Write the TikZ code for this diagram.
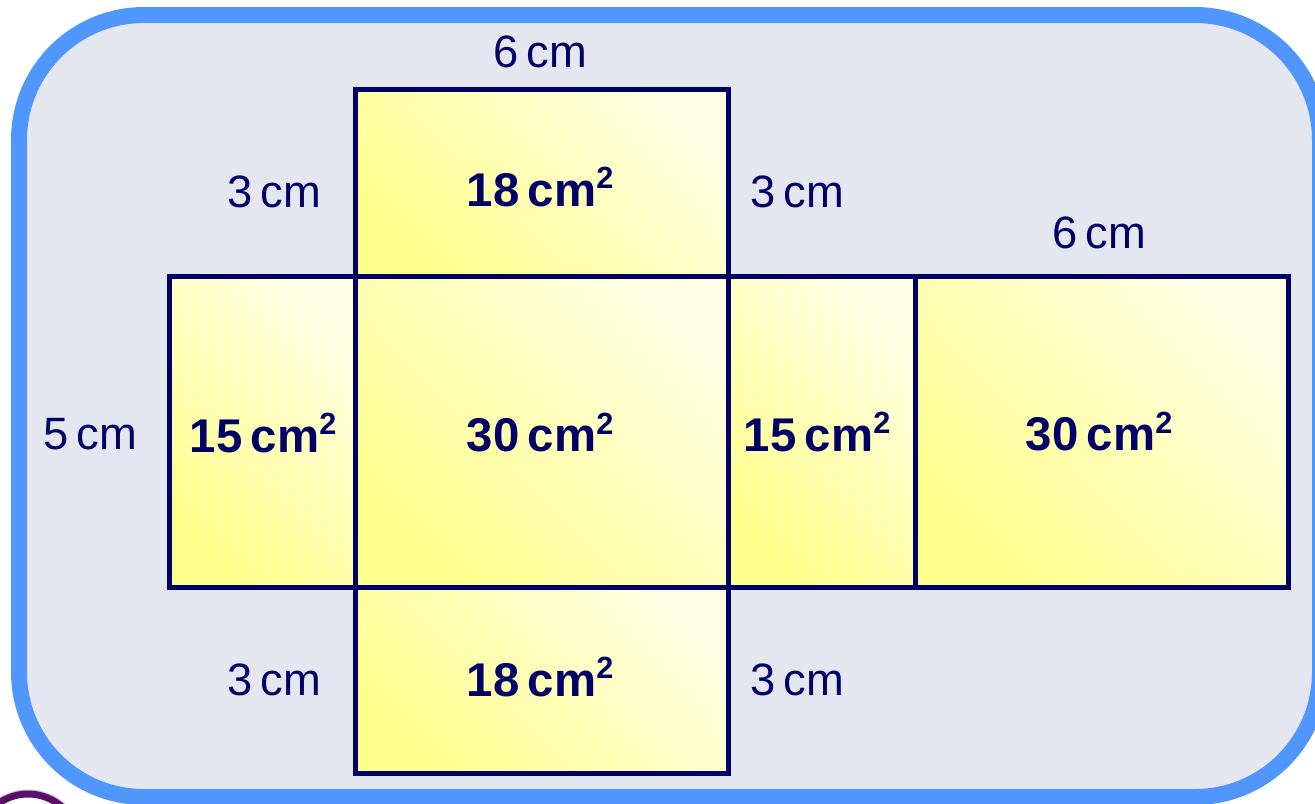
\documentclass[tikz,border=0pt]{standalone}
\usepackage{fontspec}
\setmainfont{Liberation Sans}
\usetikzlibrary{fit}
\definecolor{navy}{HTML}{000066}
\definecolor{frameblue}{HTML}{4F97FF}
\definecolor{panel}{HTML}{E4E7F0}
\definecolor{ylwA}{HTML}{FFFF8C}
\definecolor{ylwB}{HTML}{FFFFE4}
\definecolor{logopurple}{HTML}{5B0F6B}
\newcommand{\sqtwo}{\raisebox{0.36em}{\fontsize{23pt}{23pt}\selectfont 2}}
\newcommand{\thinsp}{\hspace{0.18em}}
\tikzset{
  facebox/.style={draw=navy, line width=3.75pt, inner sep=0pt,
    top color=ylwB, bottom color=ylwA, shading angle=-45},
  dimlabel/.style={text=navy, font=\fontsize{34pt}{37pt}\selectfont, inner sep=0pt},
  arealabel/.style={text=navy, font=\fontsize{35.5pt}{39pt}\selectfont\bfseries, inner sep=0pt},
}
\begin{document}
\begin{tikzpicture}[x=0.75pt, y=-0.75pt]
\useasboundingbox (0,0) rectangle (1315,804);
\clip (0,0) rectangle (1315,804);
% panel
\draw[line width=12pt, draw=frameblue, fill=panel, rounded corners=93.75pt] (19,15) rectangle (1320,797);
% logo ring
\draw[line width=1pt, draw=black!20] (28,845) circle[radius=55];
\draw[line width=5.25pt, draw=logopurple] (28,845) circle[radius=51];
% corner coordinates
\coordinate (p1) at (169,276);
\coordinate (p2) at (355.5,89.5);
\coordinate (p3) at (728.5,587);
\coordinate (p4) at (915,276);
\coordinate (p5) at (1288,587);
\coordinate (p6) at (355.5,276);
\coordinate (p7) at (728.5,276);
\coordinate (p8) at (355.5,587);
\coordinate (p9) at (728.5,773.5);
\coordinate (p10) at (169,587);
\coordinate (p11) at (915,587);
% faces
\node[facebox, fit={(p1)(p8)}] (leftface) {};
\node[facebox, fit={(p6)(p3)}] (midface) {};
\node[facebox, fit={(p7)(p11)}] (rightface) {};
\node[facebox, fit={(p4)(p5)}] (backface) {};
\node[facebox, fit={(p2)(p7)}] (topface) {};
\node[facebox, fit={(p8)(p9)}] (bottomface) {};
% area labels
\node[arealabel] (a1) at (540,187) {18\thinsp cm\sqtwo};
\node[arealabel] (a2) at (263,433) {15\thinsp cm\sqtwo};
\node[arealabel] (a3) at (540,433) {30\thinsp cm\sqtwo};
\node[arealabel] (a4) at (817,432) {15\thinsp cm\sqtwo};
\node[arealabel] (a5) at (1099,432) {30\thinsp cm\sqtwo};
\node[arealabel] (a6) at (540,677) {18\thinsp cm\sqtwo};
% dimension labels
\node[dimlabel] (d1) at (540,52) {6\thinsp cm};
\node[dimlabel] (d2) at (274,192) {3\thinsp cm};
\node[dimlabel] (d3) at (797,192) {3\thinsp cm};
\node[dimlabel] (d4) at (1099,233) {6\thinsp cm};
\node[dimlabel] (d5) at (90,434) {5\thinsp cm};
\node[dimlabel] (d6) at (274,680) {3\thinsp cm};
\node[dimlabel] (d7) at (797,680) {3\thinsp cm};
\end{tikzpicture}
\end{document}
